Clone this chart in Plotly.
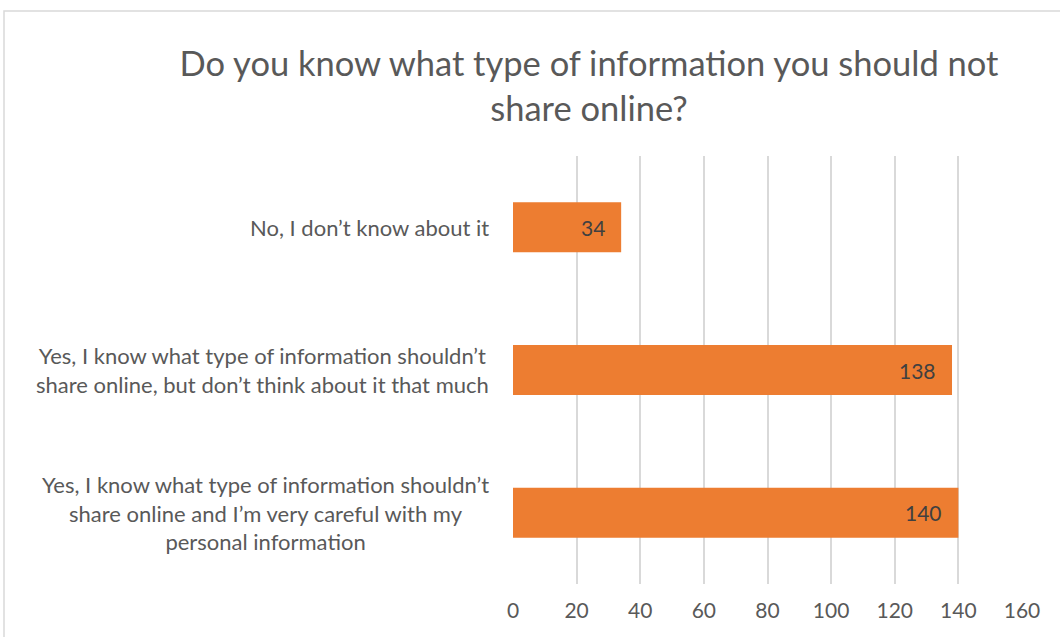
import plotly.graph_objects as go

TITLE = "Do you know what type of information you should not<br>share online?"
CATEGORIES = [
    "No, I don’t know about it",
    "Yes, I know what type of information shouldn’t<br>share online, but don’t think about it that much",
    "Yes, I know what type of information shouldn’t<br>share online and I’m very careful with my<br>personal information",
]
VALUES = [34, 138, 140]
X_TICKS = [0, 20, 40, 60, 80, 100, 120, 140, 160]

FONT = "Lato, Carlito, Calibri, sans-serif"
TEXT = "#595959"
ORANGE = "#ED7D31"
GRID = "#D9D9D9"

W, H = 1060, 637
L, R, T, B = 513, 38, 156, 53
plot_w = W - L - R
plot_h = H - T - B

fig = go.Figure()
fig.add_trace(go.Bar(
    x=VALUES, y=CATEGORIES, orientation="h",
    marker=dict(color=ORANGE, line=dict(width=0)),
    hoverinfo="x+y", showlegend=False,
))

annotations = []
for cat, v in zip(CATEGORIES, VALUES):
    annotations.append(dict(
        x=0, y=cat, xref="x", yref="y", text=cat, showarrow=False,
        xanchor="right", yanchor="middle", align="center", xshift=-22,
        font=dict(family=FONT, size=22, color=TEXT),
    ))
    annotations.append(dict(
        x=v, y=cat, xref="x", yref="y", text=str(v), showarrow=False,
        xanchor="right", yanchor="middle", xshift=-14,
        font=dict(family=FONT, size=21, color="#404040"),
    ))

fig.update_layout(
    width=W, height=H,
    margin=dict(l=L, r=R, t=T, b=B),
    paper_bgcolor="white", plot_bgcolor="white",
    title=dict(text=TITLE, x=589 / W, xanchor="center", xref="container",
               y=1 - 76 / H, yanchor="middle", yref="container",
               font=dict(family=FONT, size=34.5, color=TEXT)),
    bargap=0.65,
    annotations=annotations,
    shapes=[dict(type="rect", xref="paper", yref="paper",
                 x0=(4 - L) / plot_w, x1=(1100 - L) / plot_w,
                 y0=-60 / plot_h, y1=(H - B - 11) / plot_h,
                 line=dict(color=GRID, width=1.5), fillcolor="rgba(0,0,0,0)",
                 layer="below")],
)
fig.update_xaxes(
    range=[0, 160], tickvals=X_TICKS, showgrid=True, gridcolor=GRID, gridwidth=1.5,
    zeroline=False, showline=False, ticklabelstandoff=12,
    tickfont=dict(family=FONT, size=21, color=TEXT),
)
fig.update_yaxes(
    categoryorder="array", categoryarray=CATEGORIES, autorange="reversed",
    showticklabels=False, showgrid=False, zeroline=False, showline=False,
)

fig.write_html("out.html", config={"displayModeBar": False},
               post_script="document.body.style.margin='0';")
